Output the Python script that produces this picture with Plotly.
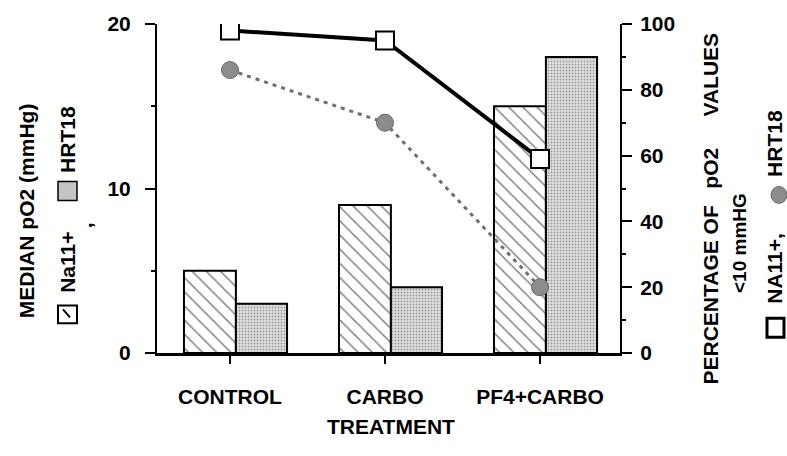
import plotly.graph_objects as go

# ---- data ----
treatments = ["CONTROL", "CARBO", "PF4+CARBO"]
median_po2_na11 = [5, 9, 15]
median_po2_hrt18 = [3, 4, 18]
pct_low_na11 = [98, 95, 59]
pct_low_hrt18 = [86, 70, 20]

left_ticks = [0, 10, 20]
right_ticks = [0, 20, 40, 60, 80, 100]

W, H = 787, 456
ML, MR, MT, MB = 157, 167, 21, 103
PW, PH = W - ML - MR, H - MT - MB

FONT = "Liberation Sans, Arial, Helvetica, sans-serif"


def px(x):
    return (x - ML) / PW


def py(y):
    return (MT + PH - y) / PH


xs = list(range(len(treatments)))

fig = go.Figure()

fig.add_trace(go.Bar(
    x=xs, y=median_po2_na11, width=0.335, offset=-0.297,
    marker=dict(color="white", line=dict(color="black", width=2),
                pattern=dict(shape="\\", fgcolor="black", bgcolor="white",
                             size=10, solidity=0.15)),
    showlegend=False,
))
fig.add_trace(go.Bar(
    x=xs, y=median_po2_hrt18, width=0.33, offset=0.038,
    marker=dict(color="white", line=dict(color="black", width=2),
                pattern=dict(shape=".", fgcolor="#555555", bgcolor="#e2e2e2",
                             size=3, solidity=0.35)),
    showlegend=False,
))

fig.add_trace(go.Scatter(
    x=xs, y=pct_low_hrt18, yaxis="y2", mode="lines+markers",
    line=dict(color="#707070", width=3, dash="4px,5px"),
    marker=dict(symbol="circle", size=17, color="#8c8c8c",
                line=dict(color="#6a6a6a", width=1)),
    showlegend=False,
))
fig.add_trace(go.Scatter(
    x=xs, y=pct_low_na11, yaxis="y2", mode="lines+markers",
    line=dict(color="black", width=4),
    marker=dict(symbol="square", size=18, color="white",
                line=dict(color="black", width=2)),
    showlegend=False,
))

tickfont = dict(family=FONT, size=21, color="black", weight=700)

fig.update_layout(
    width=W, height=H,
    margin=dict(l=ML, r=MR, t=MT, b=MB),
    paper_bgcolor="white", plot_bgcolor="white",
    barmode="overlay",
    xaxis=dict(
        range=[-0.471, 2.516], tickvals=xs, ticktext=treatments,
        showline=True, linecolor="black", linewidth=3,
        ticks="outside", ticklen=8, tickwidth=2, tickcolor="black",
        showgrid=False, zeroline=False, tickfont=tickfont,
        ticklabelstandoff=15,
    ),
    yaxis=dict(
        range=[0, 20], tickvals=left_ticks,
        showline=True, linecolor="black", linewidth=2,
        ticks="outside", ticklen=10, tickwidth=2, tickcolor="black",
        minor=dict(dtick=5, ticks="outside", ticklen=4, tickwidth=1.5,
                   tickcolor="black"),
        showgrid=False, zeroline=False, tickfont=tickfont,
        ticklabelstandoff=10,
    ),
    yaxis2=dict(
        range=[0, 100], tickvals=right_ticks, overlaying="y", side="right",
        showline=True, linecolor="black", linewidth=2,
        ticks="outside", ticklen=10, tickwidth=2, tickcolor="black",
        minor=dict(dtick=10, ticks="outside", ticklen=4, tickwidth=1.5,
                   tickcolor="black"),
        showgrid=False, zeroline=False, tickfont=tickfont,
        ticklabelstandoff=4,
    ),
)

txt = dict(family=FONT, size=21, color="black", weight=700)


def label(text, x, y, angle=-90, size=21):
    fig.add_annotation(
        text=text, x=px(x), y=py(y), xref="paper", yref="paper",
        showarrow=False, textangle=angle, xanchor="center", yanchor="middle",
        font=dict(txt, size=size),
    )


# axis titles and key
label("TREATMENT", 391, 427, angle=0)
label("MEDIAN pO2 (mmHg)", 26, 210)
label("Na11+", 68, 262)
label(",", 84, 224)
label("HRT18", 68, 138)

label("PERCENTAGE OF", 711, 295)
label("pO2", 711, 167)
label("VALUES", 711, 72)
label("&lt;10 mmHG", 739, 242, size=19)
label("NA11+,", 775, 268)
label("HRT18", 775, 142)

# key swatches
fig.add_shape(type="rect", xref="paper", yref="paper",
              x0=px(58), x1=px(77), y0=py(323), y1=py(305),
              fillcolor="white", line=dict(color="black", width=2))
fig.add_shape(type="line", xref="paper", yref="paper",
              x0=px(63), x1=px(70), y0=py(309), y1=py(317),
              line=dict(color="black", width=2))
fig.add_shape(type="rect", xref="paper", yref="paper",
              x0=px(58), x1=px(77), y0=py(199), y1=py(180),
              fillcolor="#c4c4c4", line=dict(color="black", width=1.5))
fig.add_shape(type="rect", xref="paper", yref="paper",
              x0=px(767), x1=px(784), y0=py(337), y1=py(318),
              fillcolor="white", line=dict(color="black", width=3))
fig.add_shape(type="circle", xref="paper", yref="paper",
              x0=px(771), x1=px(787), y0=py(202), y1=py(185),
              fillcolor="#8c8c8c", line=dict(color="#6a6a6a", width=1))

fig.write_html("out.html")
